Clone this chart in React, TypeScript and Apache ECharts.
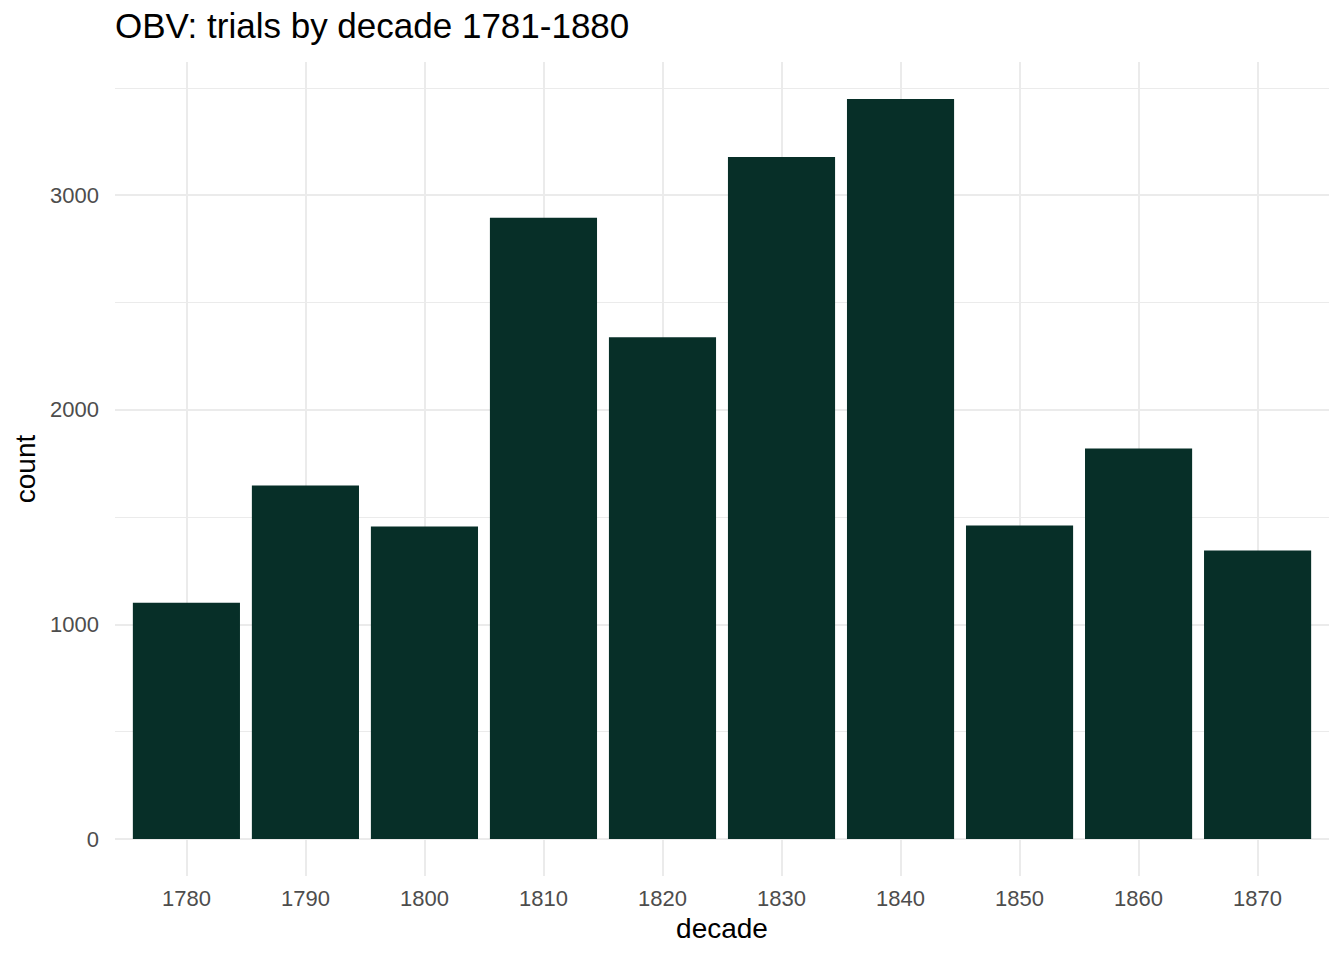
import { useEffect, useRef } from "react";
import * as echarts from "echarts";

const decades = [1780, 1790, 1800, 1810, 1820, 1830, 1840, 1850, 1860, 1870];
const counts = [1101, 1647, 1456, 2895, 2338, 3178, 3448, 1461, 1820, 1344];
const yTicks = [0, 1000, 2000, 3000];
const titleText = "OBV: trials by decade 1781-1880";
const xName = "decade";
const yName = "count";

const FONT = "'Liberation Sans', Arial, Helvetica, sans-serif";

export default function App() {
  const ref = useRef<HTMLDivElement>(null);

  useEffect(() => {
    document.body.style.margin = "0";
    const chart = echarts.init(ref.current!, null, { renderer: "svg" });
    const maxC = Math.max(...counts);
    const yMin = -maxC * 0.05;
    const yMax = maxC * 1.05;
    const xMin = decades[0] - 6;
    const xMax = decades[decades.length - 1] + 6;

    chart.setOption({
      animation: false,
      backgroundColor: "#FFFFFF",
      textStyle: { fontFamily: FONT },
      title: {
        text: titleText,
        left: 115,
        top: 8,
        padding: 0,
        textStyle: {
          fontFamily: FONT,
          fontSize: 35,
          fontWeight: "normal",
          color: "#000000",
        },
      },
      grid: {
        left: 115,
        right: 15,
        top: 62,
        bottom: 84,
        containLabel: false,
        outerBoundsMode: "none",
      },
      xAxis: {
        type: "value",
        min: xMin,
        max: xMax,
        splitNumber: 10,
        minInterval: 10,
        maxInterval: 10,
        name: xName,
        nameLocation: "middle",
        nameGap: 38,
        nameTextStyle: { fontFamily: FONT, fontSize: 28, color: "#000000" },
        axisLine: { show: false },
        axisTick: { show: false },
        axisLabel: {
          margin: 11,
          fontFamily: FONT,
          fontSize: 22,
          color: "#4D4D4D",
          formatter: (v: number) => (decades.includes(v) ? String(v) : ""),
        },
        splitLine: {
          show: true,
          showMinLine: false,
          showMaxLine: false,
          lineStyle: { color: "#EBEBEB", width: 2 },
        },
      },
      yAxis: {
        type: "value",
        min: yMin,
        max: yMax,
        minInterval: 1000,
        maxInterval: 1000,
        name: yName,
        nameLocation: "middle",
        nameGap: 72,
        nameRotate: 90,
        nameTextStyle: { fontFamily: FONT, fontSize: 28, color: "#000000" },
        axisLine: { show: false },
        axisTick: { show: false },
        axisLabel: {
          margin: 16,
          fontFamily: FONT,
          fontSize: 22,
          color: "#4D4D4D",
          formatter: (v: number) => (yTicks.includes(v) ? String(v) : ""),
        },
        splitLine: {
          show: true,
          showMinLine: false,
          showMaxLine: false,
          lineStyle: { color: "#EBEBEB", width: 2 },
        },
        minorTick: { show: false, splitNumber: 2 },
        minorSplitLine: {
          show: true,
          lineStyle: { color: "#EBEBEB", width: 1 },
        },
      },
      series: [
        {
          type: "bar",
          data: decades.map((d, i) => [d, counts[i]]),
          barWidth: "90%",
          itemStyle: { color: "#072F28" },
          emphasis: { disabled: true },
        },
      ],
    });

    return () => chart.dispose();
  }, []);

  return <div ref={ref} style={{ width: 1344, height: 960 }} />;
}
